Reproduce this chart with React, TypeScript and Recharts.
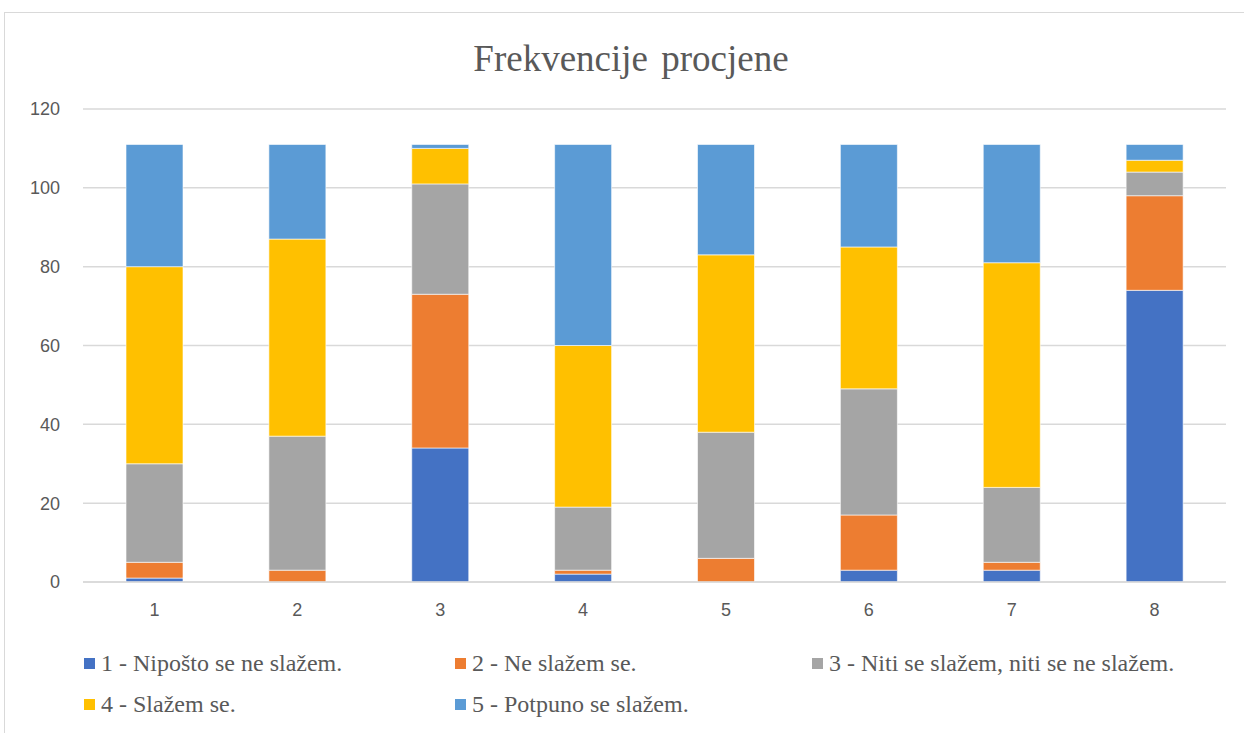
import React from "react";
import { BarChart, Bar, XAxis, YAxis, CartesianGrid } from "recharts";

const categories = ["1", "2", "3", "4", "5", "6", "7", "8"];
const s1 = [1, 0, 34, 2, 0, 3, 3, 74];
const s2 = [4, 3, 39, 1, 6, 14, 2, 24];
const s3 = [25, 34, 28, 16, 32, 32, 19, 6];
const s4 = [50, 50, 9, 41, 45, 36, 57, 3];
const s5 = [31, 24, 1, 51, 28, 26, 30, 4];
const yTicks = [0, 20, 40, 60, 80, 100, 120];

const seriesNames = [
  "1 - Nipošto se ne slažem.",
  "2 - Ne slažem se.",
  "3 - Niti se slažem, niti se ne slažem.",
  "4 - Slažem se.",
  "5 - Potpuno se slažem.",
];
const seriesColors = ["#4472C4", "#ED7D31", "#A5A5A5", "#FFC000", "#5B9BD5"];
const seriesKeys = ["s1", "s2", "s3", "s4", "s5"];

const data = categories.map((c, i) => ({
  name: c,
  s1: s1[i],
  s2: s2[i],
  s3: s3[i],
  s4: s4[i],
  s5: s5[i],
}));

const legendPos = [
  { left: 84, top: 650 },
  { left: 455, top: 650 },
  { left: 812, top: 650 },
  { left: 84, top: 691 },
  { left: 455, top: 691 },
];

export default function App() {
  return (
    <div
      style={{
        position: "absolute",
        left: 0,
        top: 0,
        width: 1244,
        height: 733,
        background: "#fff",
        overflow: "hidden",
      }}
    >
      <div
        style={{
          position: "absolute",
          left: 4,
          top: 12,
          width: 1300,
          height: 800,
          border: "1px solid #d9d9d9",
          boxSizing: "border-box",
        }}
      />
      <div
        style={{
          position: "absolute",
          left: 0,
          width: 1262,
          top: 37,
          textAlign: "center",
          fontFamily: "'Liberation Serif', serif",
          fontSize: 37,
          color: "#595959",
          wordSpacing: 4,
        }}
      >
        Frekvencije procjene
      </div>
      <div style={{ position: "absolute", left: 0, top: 0 }}>
        <BarChart
          width={1244}
          height={733}
          data={data}
          margin={{ top: 109, right: 18, left: 23, bottom: 121 }}
        >
          <CartesianGrid vertical={false} stroke="#d9d9d9" strokeWidth={1.5} />
          <XAxis
            dataKey="name"
            axisLine={{ stroke: "#d9d9d9", strokeWidth: 1.5 }}
            tickLine={false}
            tickMargin={15}
            height={30}
            tick={{ fill: "#595959", fontSize: 18, fontFamily: "'Liberation Sans', sans-serif" }}
          />
          <YAxis
            width={60}
            domain={[0, 120]}
            ticks={yTicks}
            axisLine={false}
            tickLine={false}
            tickMargin={17}
            tick={{ fill: "#595959", fontSize: 18, fontFamily: "'Liberation Sans', sans-serif" }}
          />
          {seriesKeys.map((k, i) => (
            <Bar
              key={k}
              dataKey={k}
              stackId="a"
              fill={seriesColors[i]}
              stroke="#ffffff"
              strokeWidth={0.6}
              barSize={57}
              isAnimationActive={false}
            />
          ))}
        </BarChart>
      </div>
      {seriesNames.map((n, i) => (
        <div
          key={n}
          style={{
            position: "absolute",
            left: legendPos[i].left,
            top: legendPos[i].top,
            display: "flex",
            alignItems: "center",
            fontFamily: "'Liberation Serif', serif",
            fontSize: 24,
            color: "#595959",
            whiteSpace: "nowrap",
          }}
        >
          <span
            style={{
              display: "inline-block",
              width: 11,
              height: 11,
              background: seriesColors[i],
              marginRight: 6,
            }}
          />
          {n}
        </div>
      ))}
    </div>
  );
}
